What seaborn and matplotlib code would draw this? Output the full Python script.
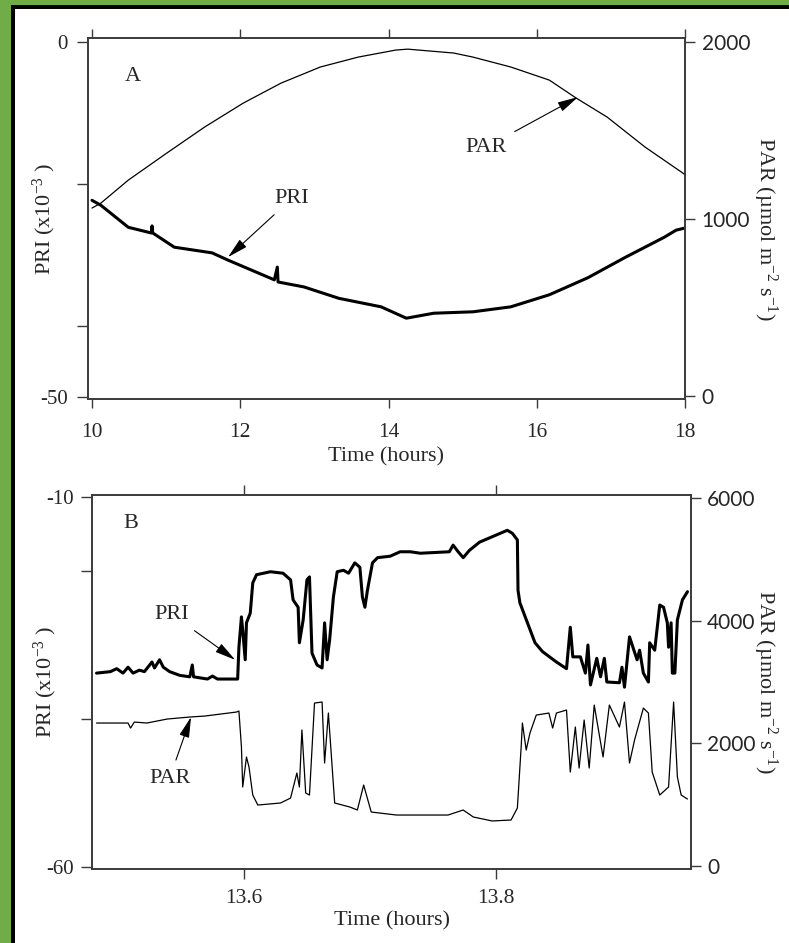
import matplotlib
matplotlib.use('Agg')
import matplotlib.pyplot as plt
import seaborn as sns
from matplotlib.patches import Rectangle

# --- panel A: daily course (hours 10-18) ---
a_par_hours = [10.0, 10.12, 10.49, 11.01, 11.52, 12.04, 12.55, 13.08, 13.59, 14.10,
               14.26, 14.88, 15.14, 15.65, 16.17, 16.53, 16.95, 17.46, 17.97, 18.0]
a_par = [1062, 1090, 1220, 1373, 1520, 1655, 1768, 1859, 1915, 1955,
         1960, 1938, 1915, 1859, 1785, 1684, 1576, 1407, 1260, 1250]

a_pri_hours = [10.0, 10.12, 10.49, 10.80, 10.81, 10.82, 11.11, 11.62, 11.83, 12.46,
               12.50, 12.51, 12.86, 13.33, 13.90, 14.24, 14.61, 15.14, 15.65, 16.17,
               16.69, 17.20, 17.72, 17.88, 18.0]
a_pri = [-22.3, -23.0, -26.1, -26.9, -25.9, -26.9, -28.9, -29.7, -30.7, -33.5,
         -31.7, -33.8, -34.5, -36.1, -37.3, -38.9, -38.2, -38.0, -37.3, -35.6,
         -33.2, -30.3, -27.5, -26.5, -26.2]

# --- panel B: short period around 13.5-13.95 h ---
b_pri_hours = [13.483, 13.494, 13.499, 13.504, 13.508, 13.512, 13.517, 13.521, 13.527, 13.529,
               13.533, 13.536, 13.541, 13.549, 13.557, 13.559, 13.560, 13.571, 13.575, 13.579,
               13.595, 13.596, 13.598, 13.599, 13.601, 13.602, 13.605, 13.607, 13.610, 13.621,
               13.631, 13.637, 13.639, 13.643, 13.644, 13.647, 13.650, 13.652, 13.654, 13.658,
               13.662, 13.664, 13.666, 13.668, 13.671, 13.674, 13.679, 13.683, 13.688, 13.692,
               13.694, 13.696, 13.698, 13.702, 13.706, 13.716, 13.724, 13.732, 13.740, 13.763,
               13.766, 13.770, 13.774, 13.779, 13.787, 13.798, 13.809, 13.813, 13.817, 13.8175,
               13.819, 13.825, 13.831, 13.837, 13.848, 13.856, 13.859, 13.861, 13.867, 13.871,
               13.873, 13.875, 13.880, 13.883, 13.886, 13.888, 13.898, 13.900, 13.902, 13.906,
               13.912, 13.914, 13.917, 13.921, 13.922, 13.926, 13.930, 13.933, 13.936, 13.937,
               13.939, 13.940, 13.942, 13.944, 13.948, 13.952]
b_pri = [-33.8, -33.6, -33.2, -33.8, -33.0, -33.8, -33.4, -33.6, -32.3, -33.1,
         -32.0, -33.0, -33.6, -34.1, -34.3, -32.7, -34.3, -34.6, -34.2, -34.6,
         -34.6, -30.3, -26.2, -28.0, -32.0, -27.0, -25.7, -21.6, -20.5, -20.1,
         -20.3, -21.2, -23.9, -24.9, -29.7, -26.6, -21.2, -20.8, -31.1, -32.7,
         -33.1, -27.0, -32.0, -29.3, -23.5, -20.1, -19.9, -20.3, -18.9, -19.5,
         -23.5, -24.9, -22.6, -18.9, -18.2, -18.0, -17.4, -17.4, -17.6, -17.4,
         -16.5, -17.4, -18.2, -17.2, -16.1, -15.3, -14.5, -14.9, -15.8, -22.6,
         -24.3, -27.0, -29.7, -30.9, -32.3, -33.2, -27.6, -31.6, -31.6, -33.8,
         -30.0, -35.4, -31.8, -34.3, -31.8, -35.0, -35.1, -33.0, -35.7, -28.9,
         -32.0, -30.7, -33.8, -35.0, -29.7, -30.7, -24.6, -24.9, -27.0, -30.3,
         -27.0, -33.8, -33.8, -26.6, -23.9, -22.8]

b_par_hours = [13.483, 13.508, 13.510, 13.513, 13.523, 13.539, 13.557, 13.569, 13.594, 13.596,
               13.598, 13.599, 13.602, 13.604, 13.607, 13.611, 13.629, 13.637, 13.642, 13.644,
               13.646, 13.649, 13.652, 13.656, 13.662, 13.664, 13.667, 13.672, 13.684, 13.690,
               13.695, 13.701, 13.721, 13.762, 13.774, 13.782, 13.797, 13.812, 13.817, 13.820,
               13.821, 13.824, 13.827, 13.832, 13.842, 13.845, 13.848, 13.856, 13.859, 13.863,
               13.866, 13.870, 13.874, 13.878, 13.885, 13.890, 13.898, 13.902, 13.906, 13.910,
               13.917, 13.921, 13.924, 13.930, 13.937, 13.941, 13.944, 13.947, 13.952]
b_par = [2331, 2331, 2249, 2347, 2331, 2396, 2429, 2445, 2510, 2527,
         1940, 1288, 1777, 1614, 1157, 994, 1027, 1108, 1516, 1288,
         2217, 1190, 1157, 2657, 2673, 1679, 2494, 1027, 962, 913,
         1320, 880, 831, 831, 913, 799, 734, 750, 945, 1940,
         2331, 1891, 2168, 2461, 2494, 2249, 2494, 2543, 1532, 2266,
         1597, 2380, 1597, 2624, 1777, 2624, 2266, 2673, 1679, 2054,
         2575, 2494, 1532, 1157, 1288, 2673, 1451, 1157, 1092]

GREEN = '#70AD47'
SPINE = '#3a3a3a'

sns.set_theme(style='ticks')
plt.rcParams['font.family'] = ['Liberation Serif', 'DejaVu Serif']
plt.rcParams['mathtext.fontset'] = 'custom'
plt.rcParams['mathtext.rm'] = 'Liberation Serif'
plt.rcParams['mathtext.default'] = 'regular'

fig = plt.figure(figsize=(7.89, 9.43), dpi=100)
fig.patch.set_facecolor(GREEN)
fig.add_artist(Rectangle((10.5 / 789, 0), 1, (943 - 4.5) / 943, transform=fig.transFigure,
                         facecolor='black', edgecolor='none', zorder=-10))
fig.add_artist(Rectangle((15 / 789, 0), 1, (943 - 9) / 943, transform=fig.transFigure,
                         facecolor='white', edgecolor='none', zorder=-9))


def style_panel(ax, ax2, xpad, lpad, rpad):
    for a in (ax, ax2):
        for s in a.spines.values():
            s.set_color(SPINE)
            s.set_linewidth(1.2)
    ax.tick_params(axis='x', direction='out', length=6.5, width=1, color=SPINE,
                   top=True, labeltop=False, pad=xpad, labelsize=15.5)
    ax.tick_params(axis='y', direction='out', length=8, width=1, color=SPINE,
                   pad=lpad, labelsize=15)
    ax2.tick_params(axis='y', direction='out', length=7, width=1, color=SPINE,
                    pad=rpad, labelsize=15)
    for lbl in ax2.get_yticklabels():
        lbl.set_fontfamily('Lato')
    ax.set_facecolor('white')


arrow = dict(arrowstyle='-|>,head_length=0.9,head_width=0.22', color='black',
             lw=0.8, mutation_scale=14, shrinkA=4, shrinkB=0)

# ---------------- panel A ----------------
axA = fig.add_axes([88 / 789, (943 - 399) / 943, 597 / 789, 361 / 943])
axA2 = axA.twinx()
sns.lineplot(x=a_pri_hours, y=a_pri, ax=axA, color='black', lw=2.2, estimator=None, sort=False)
sns.lineplot(x=a_par_hours, y=a_par, ax=axA2, color='black', lw=0.9, estimator=None, sort=False)
axA.set_xlim(9.946, 18.0)
axA.set_ylim(-50.28, 0.56)
axA2.set_ylim(-17, 2023)
axA.set_xticks([10, 12, 14, 16, 18])
axA.set_yticks([0, -20, -40, -50])
axA.set_yticklabels(['0', '', '', '-50'])
axA2.set_yticks([0, 1000, 2000])
style_panel(axA, axA2, xpad=10.5, lpad=6.5, rpad=5)

axA.set_xlabel('Time (hours)', fontsize=16)
axA.xaxis.set_label_coords(0.5, -0.133)
axA.set_ylabel('PRI (x10$^{-3}$ )', fontsize=16)
axA.yaxis.set_label_coords(-0.05, 0.5)
axA2.set_ylabel('PAR (µmol m$^{-2}$ s$^{-1}$)', fontsize=16, rotation=270, va='bottom')
axA2.yaxis.set_label_coords(1.11, 0.47)
axA.text(0.075, 0.892, 'A', transform=axA.transAxes, fontsize=16, ha='center', va='center')

axA2.annotate('PAR', xy=(16.556, 1689), xytext=(15.32, 1407), fontsize=16,
              ha='center', va='center', arrowprops=arrow)
axA.annotate('PRI', xy=(11.835, -30.3), xytext=(12.70, -22.0), fontsize=16,
             ha='center', va='center', arrowprops=arrow)

# ---------------- panel B ----------------
axB = fig.add_axes([92 / 789, (943 - 869) / 943, 599 / 789, 374 / 943])
axB2 = axB.twinx()
sns.lineplot(x=b_pri_hours, y=b_pri, ax=axB, color='black', lw=2.2, estimator=None, sort=False)
sns.lineplot(x=b_par_hours, y=b_par, ax=axB2, color='black', lw=0.9, estimator=None, sort=False)
axB.set_xlim(13.4794, 13.9548)
axB.set_ylim(-60.27, -9.73)
axB2.set_ylim(-49, 6049)
axB.set_xticks([13.6, 13.8])
axB.set_xticklabels(['13.6', '13.8'])
axB.set_yticks([-10, -20, -40, -60])
axB.set_yticklabels(['-10', '', '', '-60'])
axB2.set_yticks([0, 2000, 4000, 6000])
style_panel(axB, axB2, xpad=7.5, lpad=5, rpad=4.5)
axB.tick_params(axis='x', length=7)

axB.set_xlabel('Time (hours)', fontsize=16)
axB.xaxis.set_label_coords(0.5, -0.112)
axB.set_ylabel('PRI (x10$^{-3}$ )', fontsize=16)
axB.yaxis.set_label_coords(-0.055, 0.5)
axB2.set_ylabel('PAR (µmol m$^{-2}$ s$^{-1}$)', fontsize=16, rotation=270, va='bottom')
axB2.yaxis.set_label_coords(1.10, 0.5)
axB.text(0.065, 0.925, 'B', transform=axB.transAxes, fontsize=16, ha='center', va='center')

axB.annotate('PRI', xy=(13.593, -32.0), xytext=(13.543, -25.9), fontsize=16,
             ha='center', va='center', arrowprops=arrow)
axB2.annotate('PAR', xy=(13.558, 2429), xytext=(13.541, 1434), fontsize=16,
              ha='center', va='center', arrowprops=arrow)

fig.savefig('out.png', dpi=100)
plt.close(fig)
